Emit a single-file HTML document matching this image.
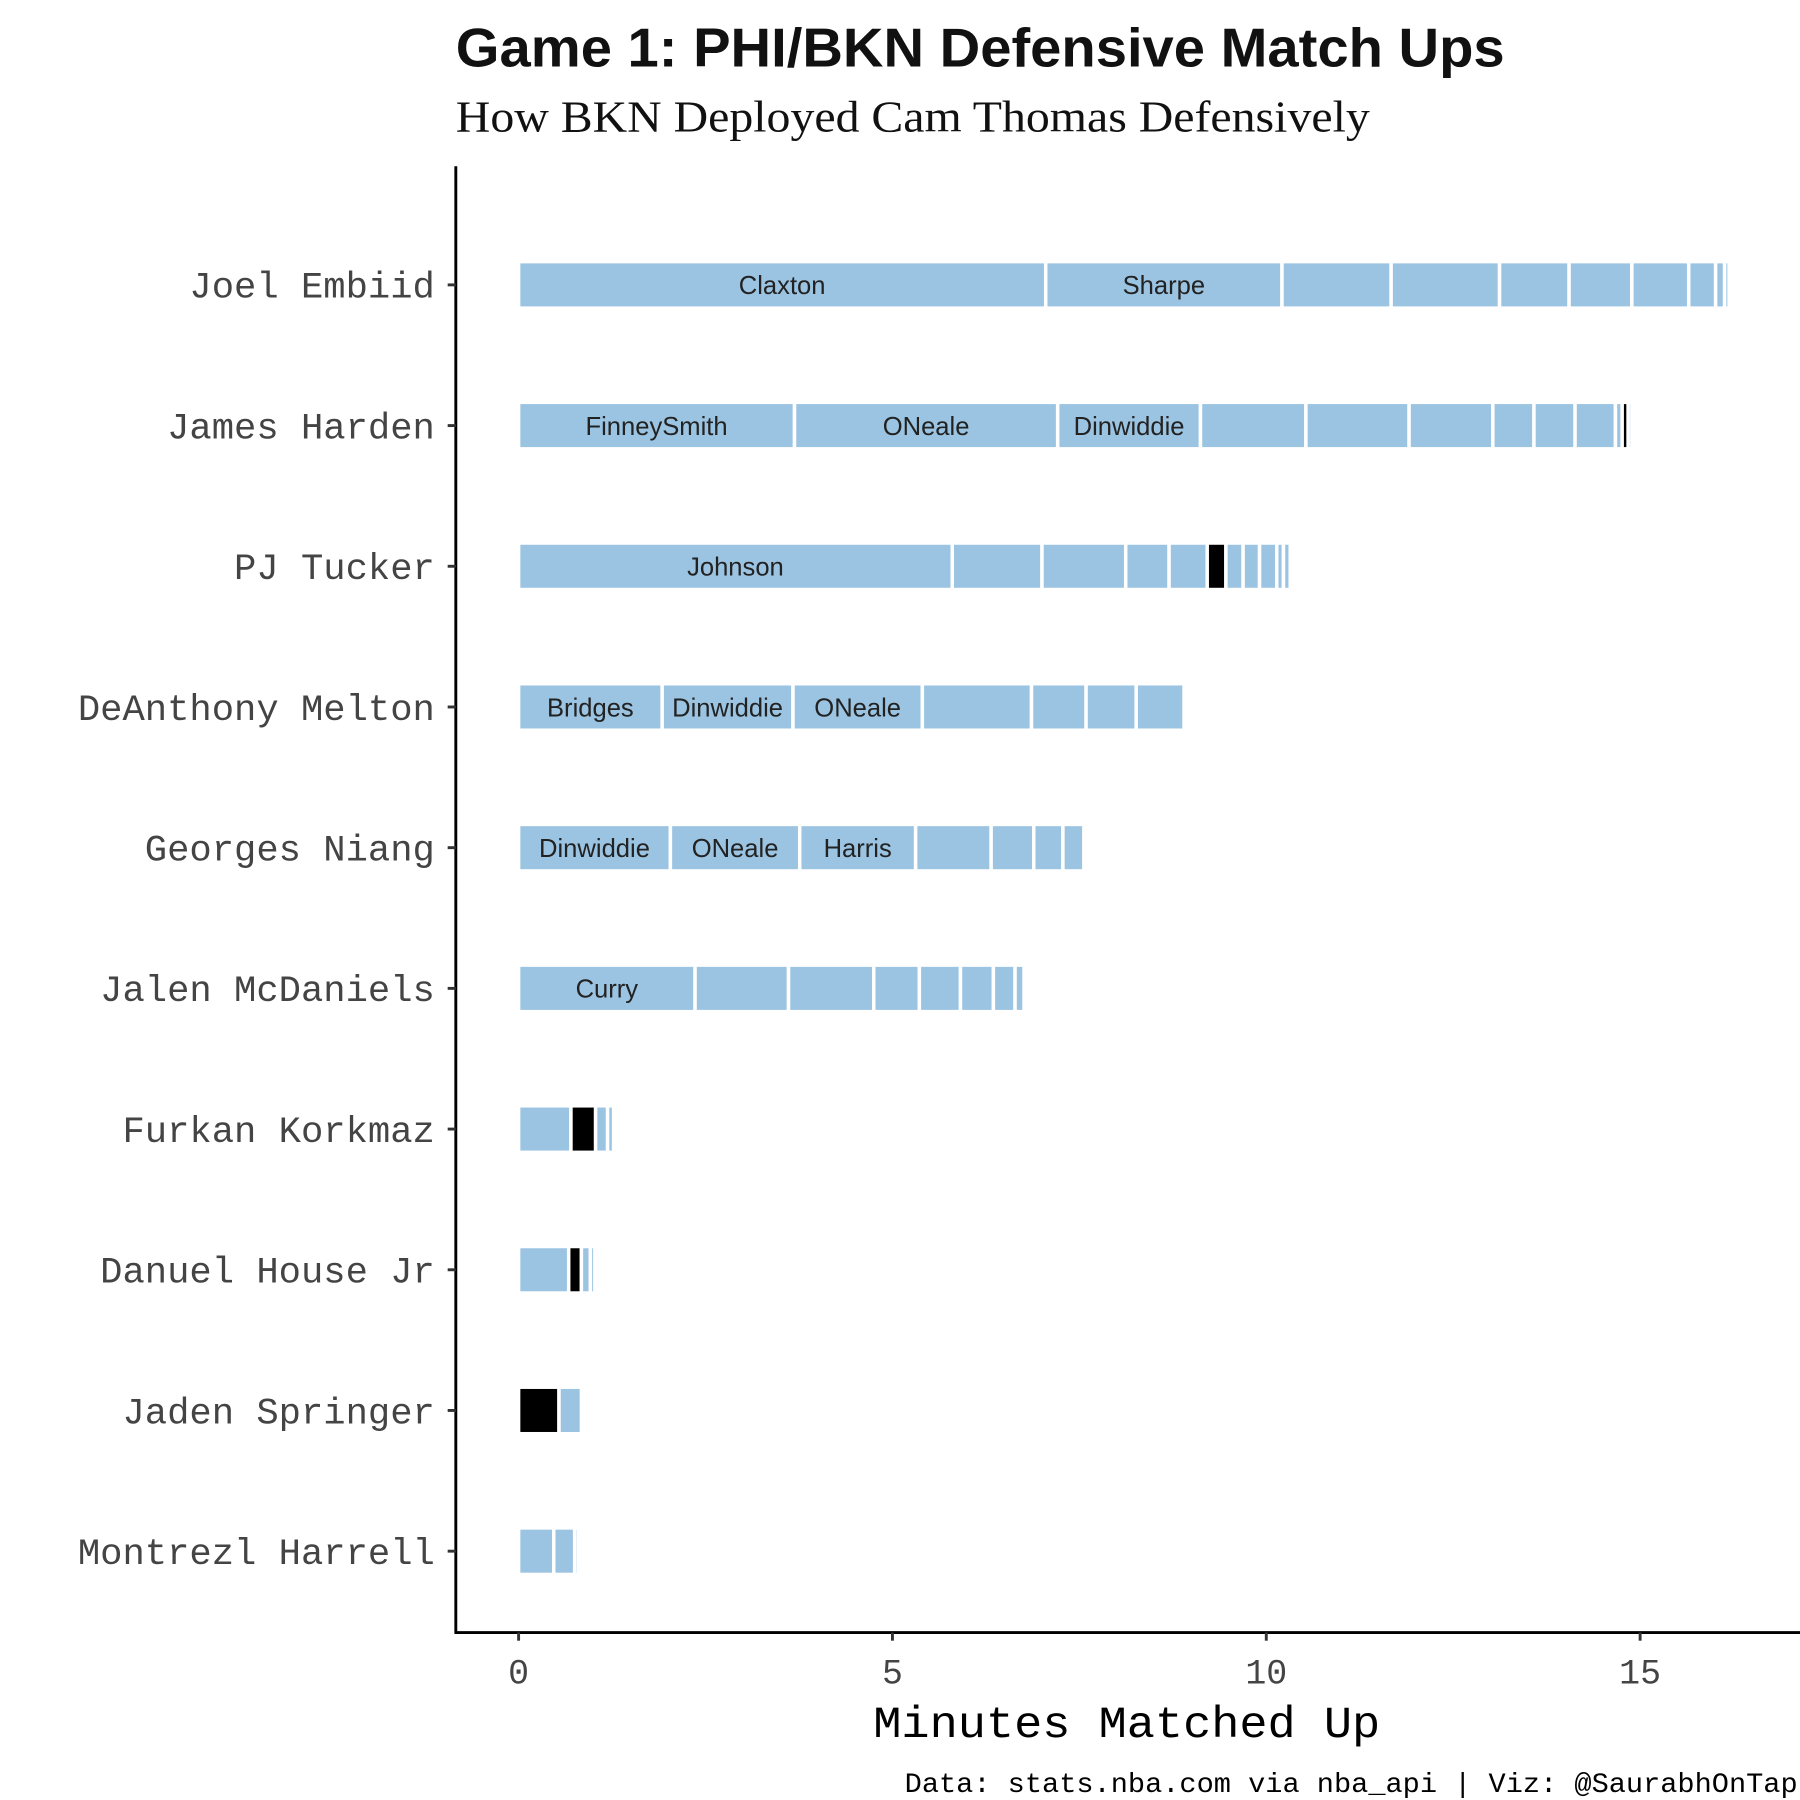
<!DOCTYPE html>
<html><head><meta charset="utf-8"><style>
html,body{margin:0;padding:0;background:#fff;}
svg{display:block;}
</style></head><body>
<svg id="chart" width="1800" height="1800" viewBox="0 0 1548 1548" xmlns="http://www.w3.org/2000/svg">
<text x="392" y="57" font-family="Liberation Sans, sans-serif" font-weight="bold" font-size="47" fill="#111" textLength="902" lengthAdjust="spacingAndGlyphs">Game 1: PHI/BKN Defensive Match Ups</text>
<text x="392" y="113" font-family="Liberation Serif, serif" font-size="38" fill="#111" textLength="786" lengthAdjust="spacingAndGlyphs">How BKN Deployed Cam Thomas Defensively</text>
<g id="plot"></g>
<line x1="392" y1="143" x2="392" y2="1405" stroke="#000" stroke-width="2.5"/>
<line x1="391" y1="1404" x2="1548" y2="1404" stroke="#000" stroke-width="2.5"/>
<text x="751" y="1494" font-family="Liberation Mono, monospace" font-size="38" fill="#000" textLength="436" lengthAdjust="spacingAndGlyphs">Minutes Matched Up</text>
<text x="778" y="1541" font-family="Liberation Mono, monospace" font-size="24" fill="#000" textLength="768" lengthAdjust="spacingAndGlyphs">Data: stats.nba.com via nba_api | Viz: @SaurabhOnTap</text>
</svg>
<script>
const players = ["Joel Embiid","James Harden","PJ Tucker","DeAnthony Melton","Georges Niang","Jalen McDaniels","Furkan Korkmaz","Danuel House Jr","Jaden Springer","Montrezl Harrell"];
const minutes = [
 [7.05,3.16,1.46,1.45,0.93,0.84,0.76,0.36,0.12,0.06],
 [3.69,3.52,1.91,1.41,1.38,1.12,0.55,0.55,0.54,0.09,0.08,0.05],
 [5.80,1.20,1.12,0.58,0.51,0.25,0.23,0.22,0.23,0.09,0.09],
 [1.92,1.75,1.73,1.46,0.73,0.67,0.64],
 [2.03,1.73,1.55,1.01,0.57,0.39,0.28],
 [2.36,1.25,1.14,0.61,0.55,0.44,0.29,0.12],
 [0.70,0.33,0.16,0.08],
 [0.67,0.17,0.12,0.06],
 [0.54,0.30],
 [0.47,0.28,0.05]
];
const isThomas = [
 [0,0,0,0,0,0,0,0,0,0],
 [0,0,0,0,0,0,0,0,0,0,1,0],
 [0,0,0,0,0,1,0,0,0,0,0],
 [0,0,0,0,0,0,0],
 [0,0,0,0,0,0,0],
 [0,0,0,0,0,0,0,0],
 [0,1,0,0],
 [0,1,0,0],
 [1,0],
 [0,0,0]
];
const defenders = [
 ["Claxton","Sharpe"],
 ["FinneySmith","ONeale","Dinwiddie"],
 ["Johnson"],
 ["Bridges","Dinwiddie","ONeale"],
 ["Dinwiddie","ONeale","Harris"],
 ["Curry"],[],[],[],[]
];
const xTicks = [0,5,10,15];
const NS="http://www.w3.org/2000/svg";
const plot=document.getElementById('plot');
const svg=document.getElementById('chart');
const xScale=v=>446+v*64.3;
const yScale=i=>245+i*121;
const BH=40;
function mk(tag,attrs,parent){const e=document.createElementNS(NS,tag);for(const k in attrs)e.setAttribute(k,attrs[k]);(parent||plot).appendChild(e);return e;}
players.forEach((p,i)=>{
  const yc=yScale(i);
  let acc=0;
  minutes[i].forEach((m,j)=>{
    const x0=xScale(acc),x1=xScale(acc+m);
    const r=mk('rect',{x:x0,y:yc-BH/2,width:Math.max(x1-x0,0.5),height:BH,fill:isThomas[i][j]?'#000':'#9bc4e2',stroke:'#fff','stroke-width':3});
    
    
    const lab=defenders[i][j];
    if(lab){
      const t=mk('text',{x:(x0+x1)/2,y:yc+8,'text-anchor':'middle','font-family':'Liberation Sans, sans-serif','font-size':22,fill:'#222'});
      t.textContent=lab;
      
      
    }
    acc+=m;
  });
  const t=mk('text',{x:374,y:yc+11,'text-anchor':'end','font-family':'Liberation Mono, monospace','font-size':32,fill:'#444'},svg);
  t.textContent=p;
  
  
  const tk=mk('line',{x1:385,x2:392,y1:yc,y2:yc,stroke:'#333','stroke-width':2.5},svg);
  
  
});
xTicks.forEach(v=>{
  const x=xScale(v);
  const tk=mk('line',{x1:x,x2:x,y1:1404,y2:1411,stroke:'#333','stroke-width':2.5},svg);
  
  
  const t=mk('text',{x:x,y:1448,'text-anchor':'middle','font-family':'Liberation Mono, monospace','font-size':30,fill:'#444'},svg);
  t.textContent=v;
  
  
});
</script>
</body></html>
